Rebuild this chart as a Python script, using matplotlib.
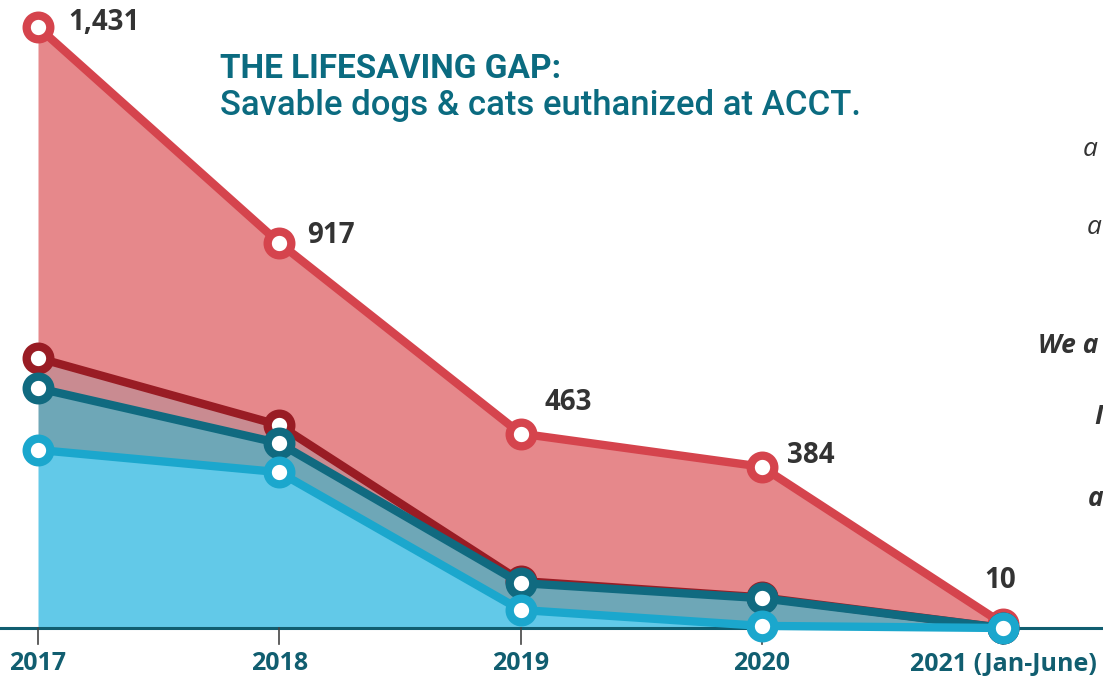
#!/usr/bin/env python3
#
# The lifesaving gap: savable dogs & cats euthanized at ACCT
#
import numpy as np
import matplotlib
matplotlib.use('Agg')
import matplotlib.pyplot as plt

# Data
years = ['2017', '2018', '2019', '2020', '2021 (Jan-June)']
total = [1431, 917, 463, 384, 10]
dark_red = [643, 483, 112, 73, 0]
teal = [571, 440, 107, 71, 0]
light_blue = [424, 371, 43, 5, 0]

# Colours
c_red_fill = '#e6888b'
c_red_line = '#d5444d'
c_dred_fill = '#c98b91'
c_dred_line = '#991c24'
c_teal_fill = '#6ea7b7'
c_teal_line = '#106a80'
c_blue_fill = '#62c9e8'
c_blue_line = '#1ba7cd'
c_axis = '#115e70'
c_text = '#333333'

W, H = 1103, 681
fig = plt.figure(figsize=(W / 100, H / 100), dpi=100)
ax = fig.add_axes([0, 0, 1, 1])

# Map data to pixels: first year at x=38, last at x=1003, zero at y=628
x = np.arange(len(years))
px_per_x = (1003 - 38) / 4
px_per_y = (628 - 27) / 1431
ax.set_xlim(-38 / px_per_x, (W - 38) / px_per_x)
ax.set_ylim(-(H - 628) / px_per_y, 628 / px_per_y)
ax.axis('off')

# Filled areas
ax.fill_between(x, dark_red, total, color=c_red_fill, lw=0, zorder=1)
ax.fill_between(x, teal, dark_red, color=c_dred_fill, lw=0, zorder=1)
ax.fill_between(x, light_blue, teal, color=c_teal_fill, lw=0, zorder=1)
ax.fill_between(x, 0, light_blue, color=c_blue_fill, lw=0, zorder=1)

# Baseline and ticks
ax.axhline(0, color=c_axis, lw=2.2, zorder=2)
for xi in x:
    ax.plot([xi, xi], [0, -16 / px_per_y], color='#444444', lw=1.2, zorder=2)

# Lines with ring markers
mk = dict(marker='o', markersize=17, markerfacecolor='white',
          markeredgewidth=6, lw=6, solid_capstyle='round',
          solid_joinstyle='round')
ax.plot(x, total, color=c_red_line, markeredgecolor=c_red_line, zorder=3, **mk)
ax.plot(x, dark_red, color=c_dred_line, markeredgecolor=c_dred_line, zorder=4, **mk)
ax.plot(x, teal, color=c_teal_line, markeredgecolor=c_teal_line, zorder=5, **mk)
ax.plot(x, light_blue, color=c_blue_line, markeredgecolor=c_blue_line, zorder=6, **mk)

# Value labels on the total line
offsets = [(22, 3), (20, 5), (17, 22), (18, 8), (-2, 31)]
aligns = ['left', 'left', 'left', 'left', 'center']
for xi, v, off, ha in zip(x, total, offsets, aligns):
    ax.annotate('{:,}'.format(v), (xi, v), xytext=off,
                textcoords='offset points', ha=ha, va='center',
                fontsize=20, fontweight='bold', color=c_text,
                family='Open Sans', zorder=7)

# Year labels
for xi, lab in zip(x, years):
    ax.text(xi, -36 / px_per_y, lab, ha='center', va='center',
            fontsize=18, fontweight='bold', color=c_axis,
            family='Open Sans', zorder=7)

# Title
fig.text(220 / W, 1 - 69 / H, 'THE LIFESAVING GAP:', ha='left', va='center',
         fontsize=24, fontweight='bold', color='#0b6b80', family='Roboto')
fig.text(220 / W, 1 - 105 / H, 'Savable dogs & cats euthanized at ACCT.',
         ha='left', va='center', fontsize=25, fontweight='medium',
         color='#0b6b80', family='Roboto')

# Cropped text on the right edge (only the part that shows)
frag = [
    (1083, 150, 'a', 'normal'),
    (1087, 228, 'a', 'normal'),
    (1038, 345, 'We a', 'bold'),
    (1094, 417, 'I', 'bold'),
    (1088, 498, 'a', 'bold'),
]
for fx, fy, s, wt in frag:
    fig.text(fx / W, 1 - fy / H, s, ha='left', va='center', fontsize=19,
             style='italic', fontweight=wt, color=c_text, family='Open Sans')

fig.savefig('out.png', dpi=100)
